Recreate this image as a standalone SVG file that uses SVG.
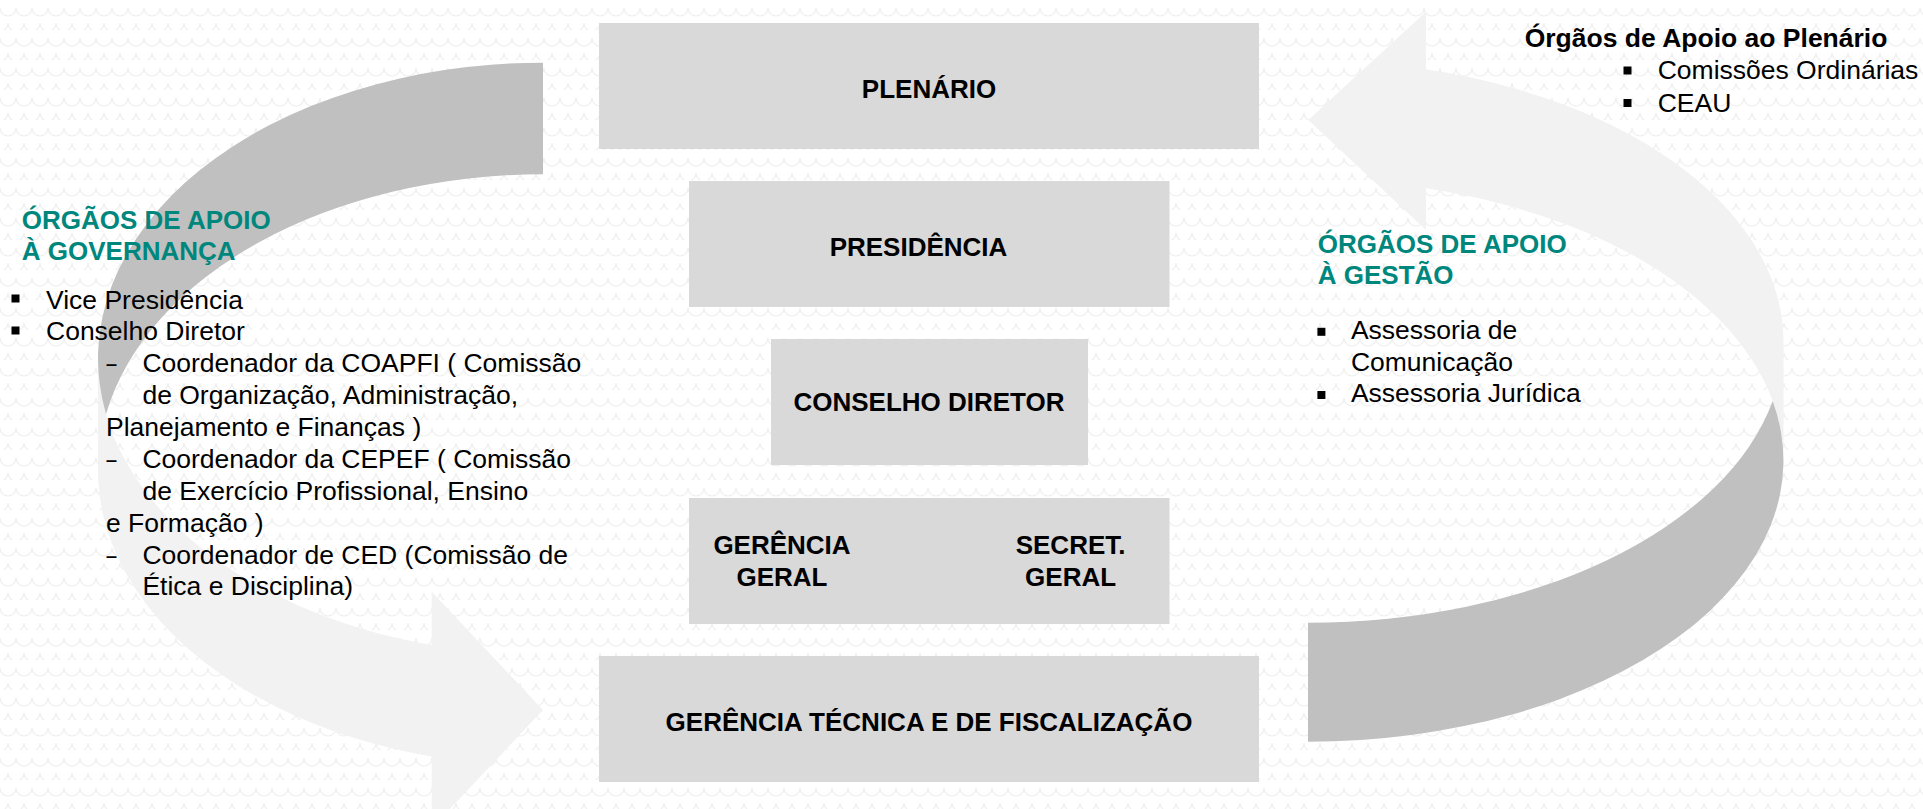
<svg xmlns="http://www.w3.org/2000/svg" width="1923" height="809" viewBox="0 0 1923 809">
<defs>
<pattern id="bg" width="16" height="30" patternUnits="userSpaceOnUse">
<rect width="16" height="30" fill="#ffffff"/>
<path d="M0 8 A8 8 0 0 0 16 8 M-8 23 A8 8 0 0 0 8 23 M8 23 A8 8 0 0 0 24 23" fill="none" stroke="#efefef" stroke-width="1.2"/>
</pattern>
<style>
.t{font-family:"Liberation Sans",Arial,sans-serif;font-size:26.5px;fill:#000}
.b{font-family:"Liberation Sans",Arial,sans-serif;font-size:26px;font-weight:bold;fill:#000}
.h{font-family:"Liberation Sans",Arial,sans-serif;font-size:26px;font-weight:bold;fill:#00877d}
.m{text-anchor:middle}
.box{fill:#d9d9d9}
.light{fill:#f2f2f2}
.dark{fill:#c0c0c0}
.bul{fill:#000}
</style>
</defs>
<rect width="1923" height="809" fill="url(#bg)"/>

<g id="connectors">
<g id="arrow-left">
<path class="light" d="M98 358.5 A445 295.8 0 0 0 431.7 644.9 L431.7 591.7 L543 710 L431.7 828.3 L431.7 756.5 A445 295.8 0 0 1 98 470.1 Z"/>
<path class="dark" d="M543 174.3 A445 295.8 0 0 0 106 414.3 A445 295.8 0 0 1 543 62.7 Z"/>
</g>
<g id="arrow-right">
<path class="light" d="M1783.5 460.6 A475.5 281.1 0 0 0 1426 188.3 L1426 230 L1308.3 120 L1426 11.7 L1426 69.3 A475.5 281.1 0 0 1 1783.5 341.6 Z"/>
<path class="dark" d="M1308 622.7 A475.5 281.1 0 0 0 1772.7 401.1 A475.5 281.1 0 0 1 1308 741.7 Z"/>
</g>
</g>

<g id="plenario">
<rect class="box" x="599" y="23" width="660" height="126"/>
<text class="b m" x="929" y="98.3">PLENÁRIO</text>
</g>
<g id="presidencia">
<rect class="box" x="689" y="181" width="480.5" height="126"/>
<text class="b m" x="918.5" y="256">PRESIDÊNCIA</text>
</g>
<g id="conselho-diretor">
<rect class="box" x="771" y="339" width="317" height="126"/>
<text class="b m" x="929" y="410.7">CONSELHO DIRETOR</text>
</g>
<g id="gerencia-secretaria">
<rect class="box" x="689" y="498" width="480.5" height="126"/>
<text class="b m" x="782" y="554">GERÊNCIA</text>
<text class="b m" x="782" y="585.7">GERAL</text>
<text class="b m" x="1070.6" y="554">SECRET.</text>
<text class="b m" x="1070.6" y="585.7">GERAL</text>
</g>
<g id="gerencia-tecnica">
<rect class="box" x="599" y="656" width="660" height="126"/>
<text class="b m" x="929" y="731">GERÊNCIA TÉCNICA E DE FISCALIZAÇÃO</text>
</g>

<g id="apoio-governanca">
<text class="h" x="21.8" y="229.3">ÓRGÃOS DE APOIO</text>
<text class="h" x="21.8" y="260">À GOVERNANÇA</text>
<rect class="bul" x="11.5" y="294.5" width="8" height="8"/>
<text class="t" x="46" y="308.5">Vice Presidência</text>
<rect class="bul" x="11.5" y="326.5" width="8" height="8"/>
<text class="t" x="46" y="340.2">Conselho Diretor</text>
<text class="t" x="106.5" y="371.8" textLength="10" lengthAdjust="spacingAndGlyphs">–</text>
<text class="t" x="142.4" y="371.8">Coordenador da COAPFI ( Comissão</text>
<text class="t" x="142.4" y="403.5">de Organização, Administração,</text>
<text class="t" x="106" y="435.5">Planejamento e Finanças )</text>
<text class="t" x="106.5" y="467.5" textLength="10" lengthAdjust="spacingAndGlyphs">–</text>
<text class="t" x="142.4" y="467.5">Coordenador da CEPEF ( Comissão</text>
<text class="t" x="142.4" y="499.5">de Exercício Profissional, Ensino</text>
<text class="t" x="106" y="531.8">e Formação )</text>
<text class="t" x="106.5" y="563.6" textLength="10" lengthAdjust="spacingAndGlyphs">–</text>
<text class="t" x="142.4" y="563.6">Coordenador de CED (Comissão de</text>
<text class="t" x="142.4" y="595.3">Ética e Disciplina)</text>
</g>

<g id="apoio-plenario">
<text class="t" x="1524.7" y="47.3" style="font-weight:bold">Órgãos de Apoio ao Plenário</text>
<rect class="bul" x="1623.5" y="66.5" width="8" height="8"/>
<text class="t" x="1657.7" y="79.3">Comissões Ordinárias</text>
<rect class="bul" x="1623.5" y="99" width="8" height="8"/>
<text class="t" x="1657.7" y="111.7">CEAU</text>
</g>

<g id="apoio-gestao">
<text class="h" x="1317.8" y="253.3">ÓRGÃOS DE APOIO</text>
<text class="h" x="1317.8" y="284">À GESTÃO</text>
<rect class="bul" x="1317.4" y="327.8" width="8" height="8"/>
<text class="t" x="1350.9" y="339">Assessoria de</text>
<text class="t" x="1350.9" y="370.7">Comunicação</text>
<rect class="bul" x="1317.4" y="391" width="8" height="8"/>
<text class="t" x="1350.9" y="401.7">Assessoria Jurídica</text>
</g>
</svg>
